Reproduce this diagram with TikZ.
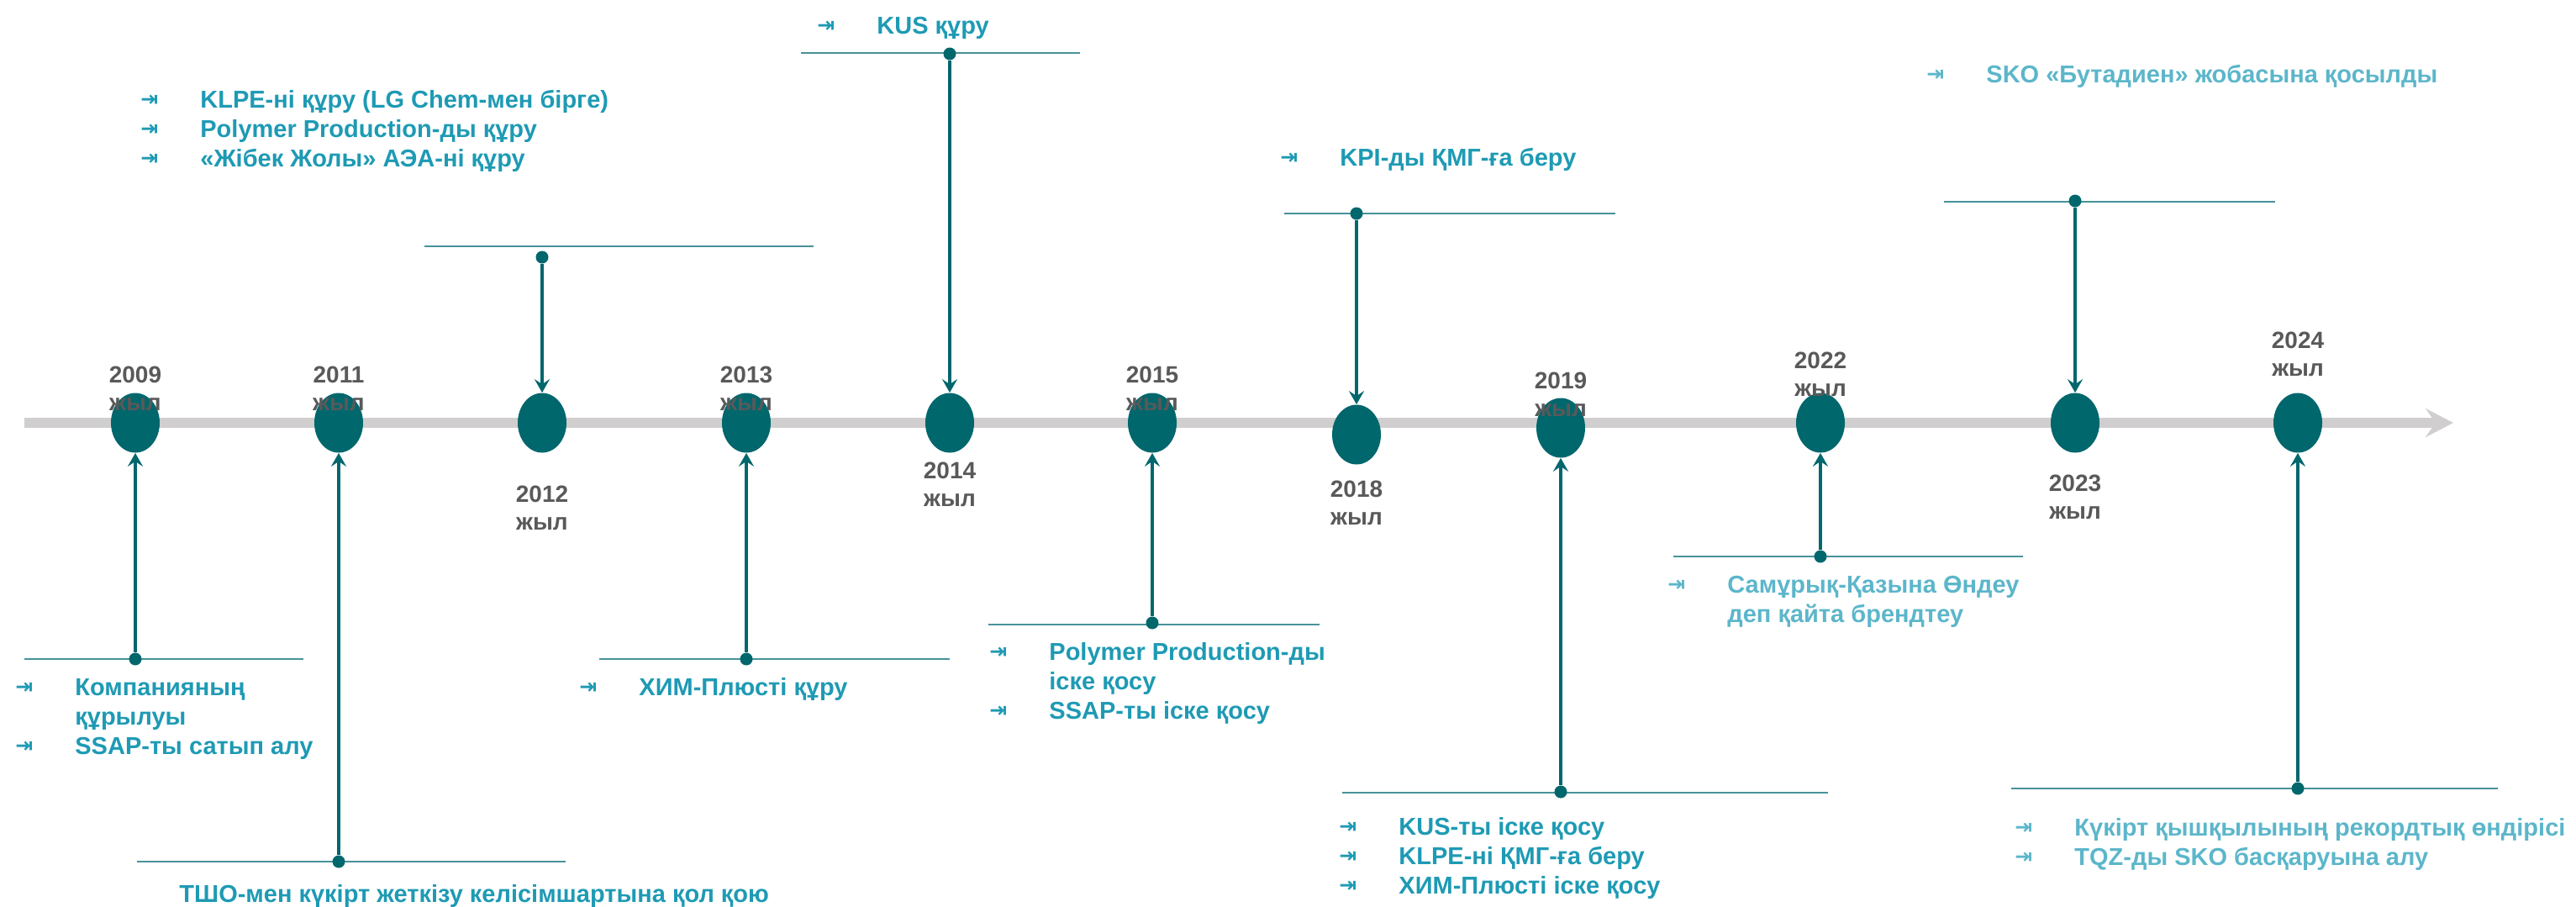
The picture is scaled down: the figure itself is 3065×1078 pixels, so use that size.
\documentclass[tikz,border=0pt]{standalone}
\usepackage{fontspec}
\setmainfont{Liberation Sans}
\newfontfamily\bulfont{DejaVu Sans}
\usetikzlibrary{arrows.meta,shapes.geometric}
\definecolor{tealdk}{HTML}{00676D}
\definecolor{hlcol}{HTML}{47929A}
\definecolor{bargray}{HTML}{D0CECE}
\definecolor{yeargray}{HTML}{595959}
\definecolor{evA}{HTML}{1E9AB4}
\definecolor{evB}{HTML}{5CB6CA}
\newcommand\bul{\strut\makebox[35.5pt][l]{\raisebox{0.8pt}{\bulfont\fontsize{12.5pt}{12.5pt}\selectfont ⇥}}}
\newcommand\cont{\strut\hspace*{35.5pt}}
\begin{document}
\begin{tikzpicture}[x=0.5pt,y=-0.5pt,
  ell/.style={ellipse, fill=tealdk, draw=none, minimum width=29pt, minimum height=35.5pt, inner sep=0pt},
  dotnode/.style={circle, fill=tealdk, draw=none, minimum size=7.5pt, inner sep=0pt},
  hline/.style={draw=hlcol, line width=1.3pt},
  conn/.style={draw=tealdk, line width=1.6pt, -{Stealth[length=8pt,width=9pt,inset=3pt]}},
  barline/.style={draw=bargray, line width=6pt, -{Stealth[length=16.5pt,width=17pt,inset=6pt]}},
  yr/.style={text=yeargray, font=\fontsize{14pt}{16.5pt}\selectfont\bfseries, align=center, anchor=north, inner sep=0pt},
  ev/.style={text=evA, font=\fontsize{14.5pt}{17.5pt}\selectfont\bfseries, align=left, anchor=north west, inner sep=0pt},
  evl/.style={ev, text=evB}]
\useasboundingbox (0,0) rectangle (3065,1078);
% timeline bar
\coordinate (bs) at (29,503);
\coordinate (be) at (2919,503);
\draw[barline] (bs) -- (be);
% milestones
\foreach \n/\x/\ey/\ha/\hb/\hy/\dy in {
 2009/161/503/29/361/784/784,
 2011/403/503/163/673/1025/1025,
 2012/645/503/505/968/293/306,
 2013/888/503/713/1130/784/784,
 2014/1130/503/953/1285/63/64,
 2015/1371/503/1176/1570/743/741,
 2018/1614/517/1528/1922/254/254,
 2019/1857/509/1597/2175/943/942,
 2022/2166/503/1991/2407/662/662,
 2023/2469/503/2313/2707/240/239,
 2024/2734/503/2393/2972/938/938}{
  \node[ell] (e\n) at (\x,\ey) {};
  \coordinate (h\n a) at (\ha,\hy);
  \coordinate (h\n b) at (\hb,\hy);
  \draw[hline] (h\n a) -- (h\n b);
  \node[dotnode] (d\n) at (\x,\dy) {};
  \draw[conn] (d\n) -- (e\n);
}
% year labels
\node[yr] (y2009) at (161,432) {\strut 2009\\жыл};
\node[yr] (y2011) at (403,432) {\strut 2011\\жыл};
\node[yr] (y2012) at (645,574) {\strut 2012\\жыл};
\node[yr] (y2013) at (888,432) {\strut 2013\\жыл};
\node[yr] (y2014) at (1130,546) {\strut 2014\\жыл};
\node[yr] (y2015) at (1371,432) {\strut 2015\\жыл};
\node[yr] (y2018) at (1614,568) {\strut 2018\\жыл};
\node[yr] (y2019) at (1857,439) {\strut 2019\\жыл};
\node[yr] (y2022) at (2166,415) {\strut 2022\\жыл};
\node[yr] (y2023) at (2469,561) {\strut 2023\\жыл};
\node[yr] (y2024) at (2734,391) {\strut 2024\\жыл};
% event texts
\node[ev] (t2009) at (18,802.5) {\bul Компанияның\\\cont құрылуы\\\bul SSAP-ты сатып алу};
\node[ev] (t2011) at (213,1048.5) {\strut ТШО-мен күкірт жеткізу келісімшартына қол қою};
\node[ev] (t2012) at (167,103.5) {\bul KLPE-ні құру (LG Chem-мен бірге)\\\bul Polymer Production-ды құру\\\bul «Жібек Жолы» АЭА-ні құру};
\node[ev] (t2013) at (689,802.5) {\bul ХИМ-Плюсті құру};
\node[ev] (t2014) at (972,15.5) {\bul KUS құру};
\node[ev] (t2015) at (1177,760.5) {\bul Polymer Production-ды\\\cont іске қосу\\\bul SSAP-ты іске қосу};
\node[ev] (t2018) at (1523,172.5) {\bul KPI-ды ҚМГ-ға беру};
\node[ev] (t2019) at (1593,968.5) {\bul KUS-ты іске қосу\\\bul KLPE-ні ҚМГ-ға беру\\\bul ХИМ-Плюсті іске қосу};
\node[evl] (t2022) at (1984,680.5) {\bul Самұрық-Қазына Өндеу\\\cont деп қайта брендтеу};
\node[evl] (t2023) at (2292,73.5) {\bul SKO «Бутадиен» жобасына қосылды};
\node[evl] (t2024) at (2397,969.5) {\bul Күкірт қышқылының рекордтық өндірісі\\\bul TQZ-ды SKO басқаруына алу};
\end{tikzpicture}
\end{document}
